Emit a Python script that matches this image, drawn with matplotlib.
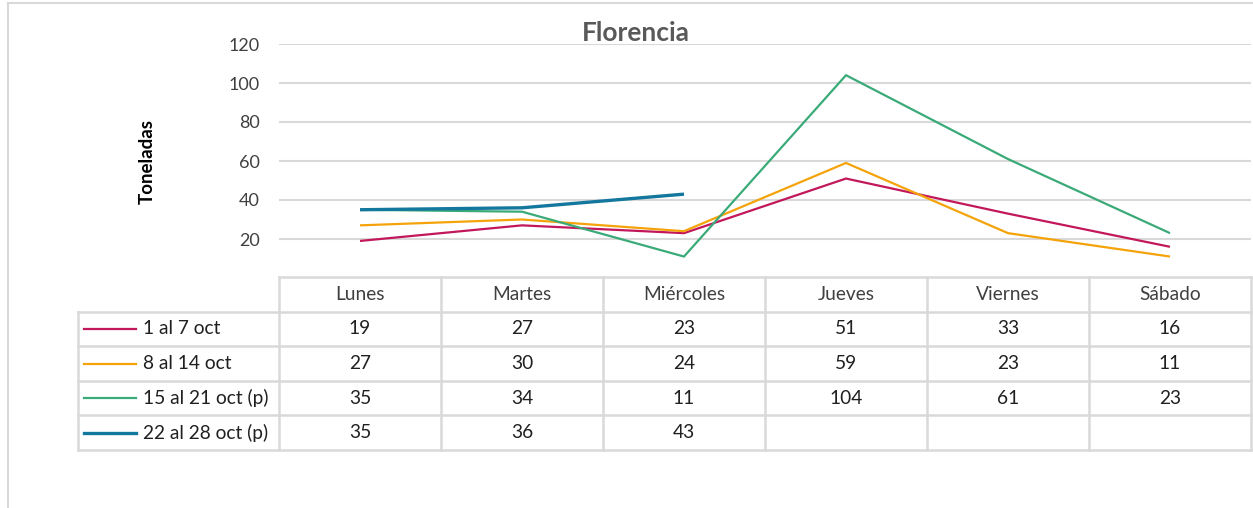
import numpy as np
import matplotlib.pyplot as plt
from matplotlib.lines import Line2D

plt.rcParams['font.family'] = ['Lato', 'DejaVu Sans']

dias = ['Lunes', 'Martes', 'Miércoles', 'Jueves', 'Viernes', 'Sábado']
series = ['1 al 7 oct', '8 al 14 oct', '15 al 21 oct (p)', '22 al 28 oct (p)']
oct_1_7 = [19, 27, 23, 51, 33, 16]
oct_8_14 = [27, 30, 24, 59, 23, 11]
oct_15_21 = [35, 34, 11, 104, 61, 23]
oct_22_28 = [35, 36, 43, None, None, None]
valores = [oct_1_7, oct_8_14, oct_15_21, oct_22_28]
colores = ['#C2185B', '#F5A30A', '#3AAA78', '#14789E']
grosor = [1.6, 1.6, 1.6, 2.4]
yticks = [20, 40, 60, 80, 100, 120]

W, H = 1253, 508
fig = plt.figure(figsize=(W / 100, H / 100), dpi=100)

def box(x0, y0, x1, y1):
    # pixel box (top-left origin) -> figure fraction
    return [x0 / W, 1 - y1 / H, (x1 - x0) / W, (y1 - y0) / H]

grid_c = '#D9D9D9'
texto_c = '#404040'
fs = 13.8

# plot area
ax = fig.add_axes(box(279, 44, 1251, 278))
x = np.arange(len(dias))
for vals, c, lw in zip(valores, colores, grosor):
    y = np.array([np.nan if v is None else v for v in vals], dtype=float)
    ax.plot(x, y, color=c, lw=lw, solid_capstyle='butt')
ax.set_xlim(-0.5, len(dias) - 0.5)
ax.set_ylim(0, 120)
ax.set_yticks(yticks)
ax.set_xticks([])
ax.yaxis.grid(True, color=grid_c, lw=1.5)
ax.set_axisbelow(True)
for s in ax.spines.values():
    s.set_visible(False)
ax.tick_params(axis='y', length=0, pad=14, labelsize=13, labelcolor=texto_c)
ax.set_ylabel('Toneladas', fontsize=13.5, fontweight='bold', color='black', labelpad=52)

fig.text(636 / W, 1 - 33 / H, 'Florencia', ha='center', va='center',
         fontsize=19, fontweight='bold', color='#595959')

# data table
col_w = 162.0
lab_w = 201.0 / col_w
tax = fig.add_axes(box(78, 277, 1251, 450))
tax.set_xlim(-0.5 - lab_w, len(dias) - 0.5)
tax.set_ylim(5, 0)
tax.axis('off')
left = -0.5 - lab_w
kw = dict(color=grid_c, lw=1.8, clip_on=False)
# header row
tax.plot([-0.5, len(dias) - 0.5], [0, 0], **kw)
for i in range(len(dias) + 1):
    tax.plot([i - 0.5, i - 0.5], [0, 5], **kw)
tax.plot([left, left], [1, 5], **kw)
for r in range(1, 6):
    tax.plot([left, len(dias) - 0.5], [r, r], **kw)
for i, d in enumerate(dias):
    tax.text(i, 0.5, d, ha='center', va='center', fontsize=fs, color=texto_c)
for r, (nombre, vals, c, lw) in enumerate(zip(series, valores, colores, grosor)):
    yc = r + 1.5
    tax.add_line(Line2D([left + 6 / col_w, left + 58 / col_w], [yc, yc], color=c, lw=lw, clip_on=False))
    tax.text(left + 65 / col_w, yc, nombre, ha='left', va='center', fontsize=fs, color='#202020')
    for i, v in enumerate(vals):
        if v is not None:
            tax.text(i, yc, str(v), ha='center', va='center', fontsize=fs, color='#202020')

# chart frame (left and top visible)
fig.add_artist(Line2D([8 / W, 8 / W], [0, 1 - 3 / H], color=grid_c, lw=1.5))
fig.add_artist(Line2D([8 / W, 1], [1 - 3 / H, 1 - 3 / H], color=grid_c, lw=1.5))

fig.savefig('out.png', dpi=100, facecolor='white')
